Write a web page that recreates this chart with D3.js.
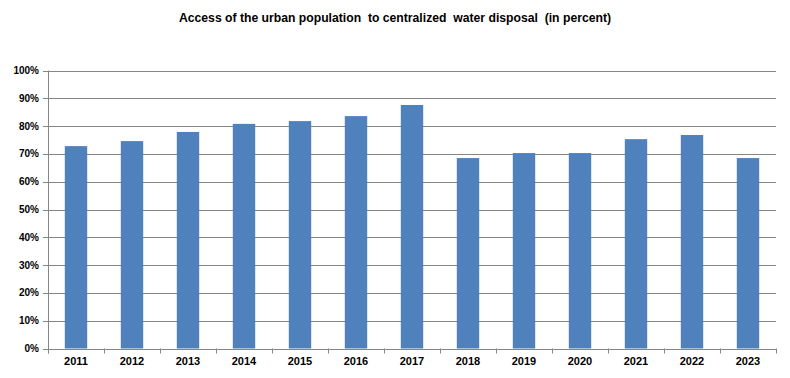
<!DOCTYPE html>
<html><head><meta charset="utf-8">
<script src="https://cdn.jsdelivr.net/npm/d3@7"></script>
<style>body{margin:0;background:#fff}svg{display:block}text{font-family:"Liberation Sans",Arial,sans-serif;font-weight:bold;fill:#000}</style>
</head><body>
<script>
const years = ["2011","2012","2013","2014","2015","2016","2017","2018","2019","2020","2021","2022","2023"];
const values = [72.8,74.6,77.9,80.8,81.8,83.6,87.6,68.5,70.3,70.3,75.3,76.8,68.5];
const yTicks = [0,10,20,30,40,50,60,70,80,90,100];
const title = "Access of the urban population\u00a0 to centralized\u00a0 water disposal\u00a0 (in percent)";

const W=790,H=378;
const m={l:48,r:14,t:70.5,b:29.5};
const svg=d3.select("body").append("svg").attr("width",W).attr("height",H);
const x=d3.scaleBand().domain(years).range([m.l,W-m.r]).paddingInner(0.6).paddingOuter(0.3);
const y=d3.scaleLinear().domain([0,100]).range([H-m.b,m.t]);

svg.append("text").attr("x",395).attr("y",22).attr("text-anchor","middle").style("font-size","12.2px").text(title);

const grid=svg.append("g");
grid.selectAll("line").data(yTicks).join("line")
  .attr("x1",m.l-5).attr("x2",W-m.r).attr("y1",d=>Math.round(y(d))+0.5).attr("y2",d=>Math.round(y(d))+0.5)
  .attr("stroke","#868686").attr("stroke-width",1);
grid.selectAll("text").data(yTicks).join("text")
  .attr("x",m.l-9).attr("y",d=>y(d)+3.5).attr("text-anchor","end").style("font-size","10px").text(d=>d+"%");

svg.append("g").selectAll("rect").data(values).join("rect")
  .attr("x",(d,i)=>x(years[i])).attr("width",x.bandwidth())
  .attr("y",d=>y(d)).attr("height",d=>y(0)-y(d)).attr("fill","#4f81bd");

svg.append("line").attr("x1",m.l+0.5).attr("x2",m.l+0.5).attr("y1",m.t).attr("y2",H-m.b+5).attr("stroke","#868686");
const bounds=d3.range(years.length+1).map(i=>m.l+i*(W-m.r-m.l)/years.length);
svg.append("g").selectAll("line").data(bounds).join("line")
  .attr("x1",d=>Math.round(d)+0.5).attr("x2",d=>Math.round(d)+0.5).attr("y1",y(0)).attr("y2",y(0)+5).attr("stroke","#868686");
svg.append("g").selectAll("text").data(years).join("text")
  .attr("x",d=>x(d)+x.bandwidth()/2).attr("y",H-m.b+16).attr("text-anchor","middle").style("font-size","11px").text(d=>d);
</script>
</body></html>
